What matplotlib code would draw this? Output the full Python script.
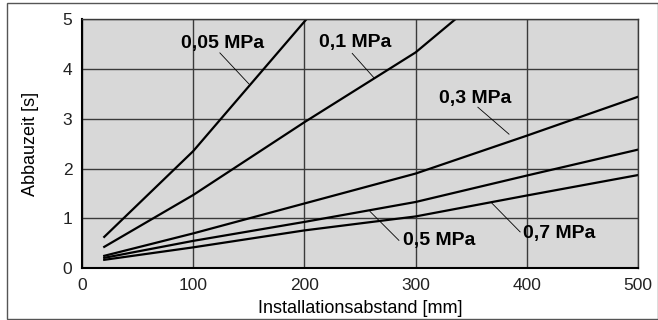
import numpy as np
import matplotlib.pyplot as plt
from matplotlib.patches import Rectangle

plt.rcParams['font.family'] = ['Liberation Sans', 'DejaVu Sans']

# Installationsabstand [mm]
distance = [20, 100, 200, 300, 400, 500]

# Abbauzeit [s] per Druck
t_005 = [0.63, 2.35, 5.0]
x_005 = [20, 100, 202]
t_01 = [0.43, 1.47, 2.93, 4.33, 5.0]
x_01 = [20, 100, 200, 300, 336]
t_03 = [0.25, 0.70, 1.30, 1.90, 2.66, 3.44]
t_05 = [0.21, 0.55, 0.93, 1.33, 1.86, 2.38]
t_07 = [0.17, 0.42, 0.76, 1.04, 1.46, 1.87]

labels = ["0,05 MPa", "0,1 MPa", "0,3 MPa", "0,5 MPa", "0,7 MPa"]
# text position, leader start, leader end (data coords)
label_pos = [(126, 4.5), (246, 4.52), (354, 3.41), (321, 0.55), (429, 0.69)]
leader_from = [(124, 4.32), (243, 4.31), (356, 3.23), (285, 0.56), (394, 0.73)]
leader_to = [(150, 3.70), (263, 3.81), (384, 2.69), (259, 1.14), (368, 1.32)]

fig = plt.figure(figsize=(6.58, 3.2), dpi=100)
ax = fig.add_axes([82 / 658, 1 - 268.3 / 320, (638 - 82) / 658, (268.3 - 19) / 320])

ax.set_facecolor('#d8d8d8')
ax.set_xlim(0, 500)
ax.set_ylim(0, 5)
ax.set_xticks([0, 100, 200, 300, 400, 500])
ax.set_yticks([0, 1, 2, 3, 4, 5])
ax.grid(True, color='#3a3a3a', linewidth=1.0)
ax.set_axisbelow(True)
ax.tick_params(length=0, labelsize=12.5, pad=7, colors='#222222')

for s in ['top', 'right']:
    ax.spines[s].set_color('#3a3a3a')
    ax.spines[s].set_linewidth(1.0)
for s in ['left', 'bottom']:
    ax.spines[s].set_color('black')
    ax.spines[s].set_linewidth(1.5)

lw = 1.6
ax.plot(x_005, t_005, color='black', linewidth=lw)
ax.plot(x_01, t_01, color='black', linewidth=lw)
ax.plot(distance, t_03, color='black', linewidth=lw)
ax.plot(distance, t_05, color='black', linewidth=lw)
ax.plot(distance, t_07, color='black', linewidth=lw)

for lab, p, a, b in zip(labels, label_pos, leader_from, leader_to):
    ax.text(p[0], p[1], lab, fontsize=14, fontweight='bold', ha='center', va='center')
    ax.plot([a[0], b[0]], [a[1], b[1]], color='black', linewidth=0.6)

ax.set_xlabel("Installationsabstand [mm]", fontsize=13, labelpad=5)
ax.set_ylabel("Abbauzeit [s]", fontsize=13, labelpad=17)

fig.patches.append(Rectangle((6.5 / 658, 1 / 320), 651 / 658, 316.5 / 320,
                             transform=fig.transFigure, fill=False,
                             edgecolor='#555555', linewidth=1.0))

fig.savefig('out.png', dpi=100)
